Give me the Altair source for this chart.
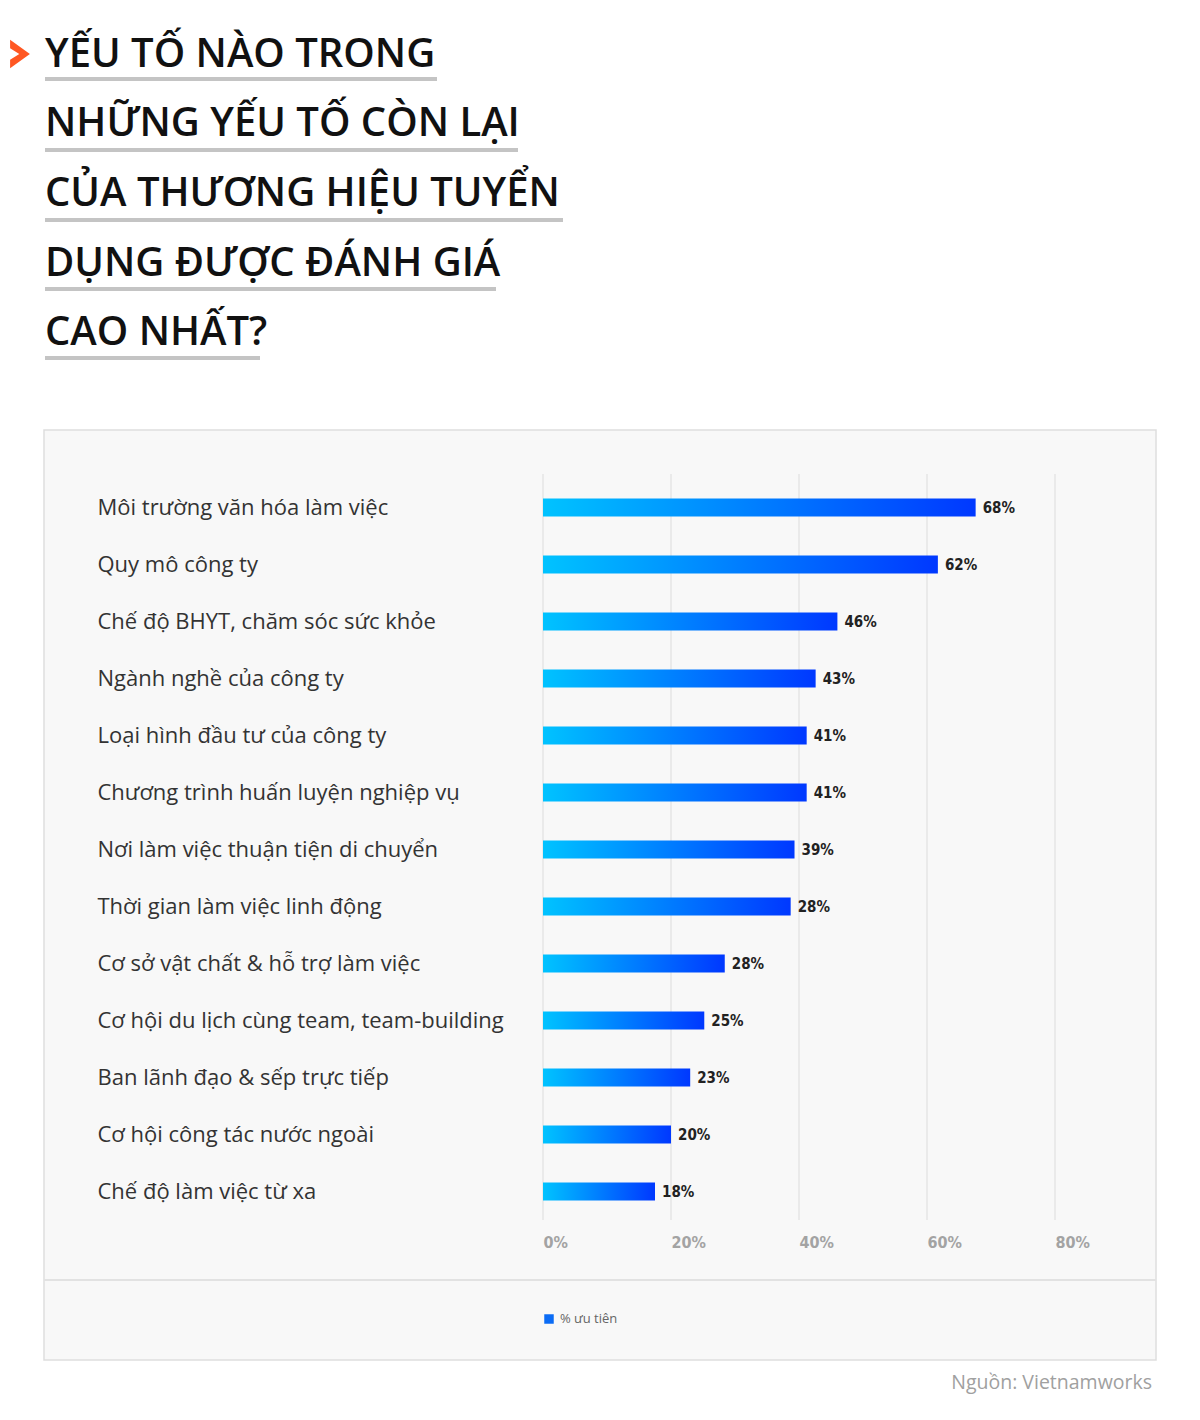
import altair as alt
import pandas as pd

# ---------------- data ----------------
CATEGORIES = [
    "Môi trường văn hóa làm việc",
    "Quy mô công ty",
    "Chế độ BHYT, chăm sóc sức khỏe",
    "Ngành nghề của công ty",
    "Loại hình đầu tư của công ty",
    "Chương trình huấn luyện nghiệp vụ",
    "Nơi làm việc thuận tiện di chuyển",
    "Thời gian làm việc linh động",
    "Cơ sở vật chất & hỗ trợ làm việc",
    "Cơ hội du lịch cùng team, team-building",
    "Ban lãnh đạo & sếp trực tiếp",
    "Cơ hội công tác nước ngoài",
    "Chế độ làm việc từ xa",
]
VALUES = [67.6, 61.7, 46.0, 42.6, 41.2, 41.2, 39.3, 38.7, 28.4, 25.2, 23.0, 20.0, 17.5]
VALUE_LABELS = ["68%", "62%", "46%", "43%", "41%", "41%", "39%", "28%",
                "28%", "25%", "23%", "20%", "18%"]
X_TICKS = [0, 20, 40, 60, 80]
TITLE_LINES = [
    "YẾU TỐ NÀO TRONG",
    "NHỮNG YẾU TỐ CÒN LẠI",
    "CỦA THƯƠNG HIỆU TUYỂN",
    "DỤNG ĐƯỢC ĐÁNH GIÁ",
    "CAO NHẤT?",
]
LEGEND_LABEL = "% ưu tiên"
SOURCE = "Nguồn: Vietnamworks"

df = pd.DataFrame({"cat": CATEGORIES, "value": VALUES, "label": VALUE_LABELS})
ticks_df = pd.DataFrame({"value": X_TICKS})
one = pd.DataFrame({"k": [0]})

W, H = 512, 741
COND = "DejaVu Sans Condensed, Liberation Sans Narrow, Roboto, sans-serif"
SANS = "Open Sans, Noto Sans, sans-serif"

y_enc = alt.Y(
    "cat:N", sort=CATEGORIES,
    scale=alt.Scale(paddingInner=0.68, paddingOuter=0.34),
    axis=alt.Axis(title=None, domain=False, ticks=False, tickSize=0,
                  labelAlign="left", labelPadding=446, labelFont=SANS,
                  labelFontSize=22, labelColor="#333333", labelLimit=0,
                  labelBaseline="middle", zindex=1, grid=False),
)
x_scale = alt.Scale(domain=[0, 80], nice=False)
x_axis = alt.Axis(title=None, values=X_TICKS, domain=False, ticks=False,
                  tickSize=0, labelPadding=14, labelAlign="left",
                  labelFlush=False, labelOverlap=False, grid=False,
                  labelFont=COND, labelFontSize=16, labelFontWeight="bold",
                  labelColor="#a3a3a3", labelExpr="datum.value + '%'",
                  zindex=1)
x_enc = alt.X("value:Q", scale=x_scale, axis=x_axis)

# panel background
panel = alt.Chart(one).mark_rect(fill="#f8f8f8", stroke="#dedede", strokeWidth=1.5).encode(
    x=alt.value(-499), x2=alt.value(613), y=alt.value(-49), y2=alt.value(881))
separator = alt.Chart(one).mark_rule(color="#e2e2e2", strokeWidth=2).encode(
    x=alt.value(-499), x2=alt.value(613), y=alt.value(801))

# gridlines
grid = alt.Chart(ticks_df).mark_rule(color="#e6e6e6", strokeWidth=1.5).encode(
    x=x_enc, y=alt.value(-5), y2=alt.value(H))

gradient = alt.Gradient(
    gradient="linear",
    stops=[alt.GradientStop(color="#00c3ff", offset=0),
           alt.GradientStop(color="#0038ff", offset=1)],
    x1=0, x2=1, y1=0, y2=0,
)
bars = alt.Chart(df).mark_bar(color=gradient).encode(x=x_enc, y=y_enc)
labels = alt.Chart(df).mark_text(
    align="left", baseline="middle", dx=7, font=COND, fontSize=15,
    fontWeight="bold", color="#222222",
).encode(x=x_enc, y=y_enc, text="label:N")

# legend
legend_sq = alt.Chart(one).mark_square(size=90, color="#0b6cf5", opacity=1).encode(
    x=alt.value(6), y=alt.value(840))
legend_tx = alt.Chart(one).mark_text(
    align="left", baseline="middle", font=SANS, fontSize=13, color="#666666",
    text=LEGEND_LABEL).encode(x=alt.value(17), y=alt.value(840))

# source
source = alt.Chart(one).mark_text(
    align="right", baseline="middle", font=SANS, fontSize=19.5, color="#a0a0a0",
    text=SOURCE).encode(x=alt.value(609), y=alt.value(904))

# title
title_layers = []
centers = [-424, -355, -285, -215, -146]
under_y = [-400, -329, -259, -190, -121]
under_x2 = [-106, -25, 20, -47, -283]
for line, cy, uy, ux2 in zip(TITLE_LINES, centers, under_y, under_x2):
    title_layers.append(
        alt.Chart(one).mark_rule(color="#c4c4c4", strokeWidth=4).encode(
            x=alt.value(-498), x2=alt.value(ux2), y=alt.value(uy)))
    title_layers.append(
        alt.Chart(one).mark_text(
            align="left", baseline="middle", font=SANS, fontSize=40,
            fontWeight=600, color="#111111", text=line,
        ).encode(x=alt.value(-498), y=alt.value(cy)))

chevron = alt.Chart(one).mark_point(
    shape="M-0.7,-1 L0.7,0 L-0.7,1 L-0.7,0.4 L-0.05,0 L-0.7,-0.4 Z",
    filled=True, fill="#ff5722", opacity=1, size=800, strokeWidth=0,
).encode(x=alt.value(-523), y=alt.value(-425))

chart = alt.layer(
    panel, separator, grid, bars, labels, legend_sq, legend_tx, source,
    chevron, *title_layers,
).properties(
    width=W, height=H,
    autosize=alt.AutoSizeParams(type="none"),
    padding={"left": 535, "top": 471, "right": 137, "bottom": 186},
    background="white",
).configure_view(stroke=None)

chart.save("out.html", embed_options={"renderer": "svg", "actions": False})
